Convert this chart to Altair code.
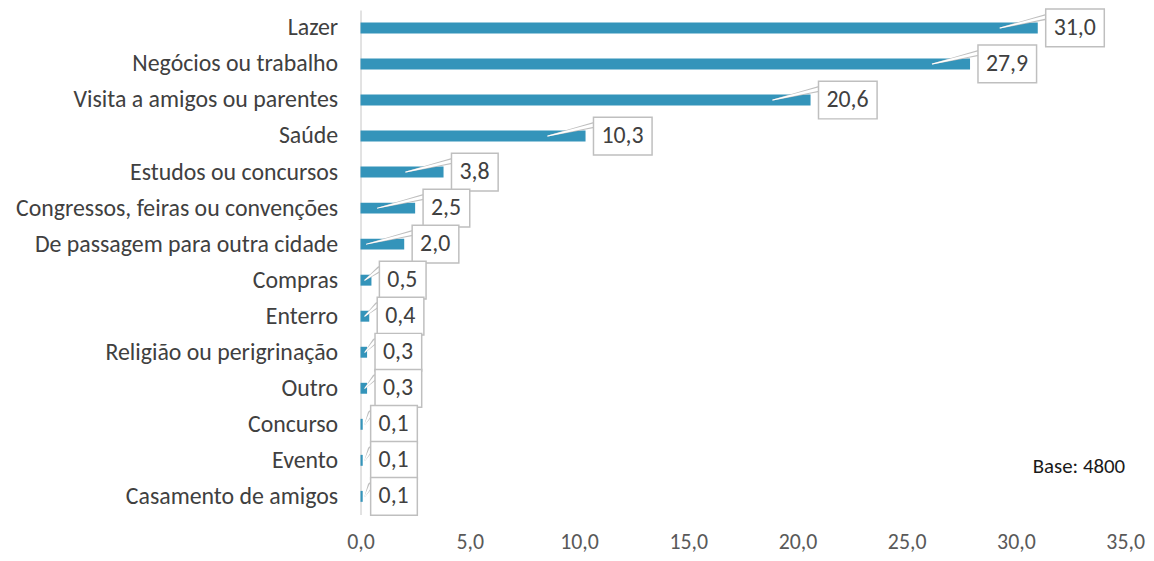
import altair as alt
import pandas as pd

categories = [
    "Lazer", "Negócios ou trabalho", "Visita a amigos ou parentes", "Saúde",
    "Estudos ou concursos", "Congressos, feiras ou convenções",
    "De passagem para outra cidade", "Compras", "Enterro",
    "Religião ou perigrinação", "Outro", "Concurso", "Evento",
    "Casamento de amigos",
]
values = [31.0, 27.9, 20.6, 10.3, 3.8, 2.5, 2.0, 0.5, 0.4, 0.3, 0.3, 0.1, 0.1, 0.1]
x_ticks = [0, 5, 10, 15, 20, 25, 30, 35]
note = ["Base: 4800"]

W, H = 770, 508
XMAX = 35
K = W / XMAX                 # px per unit
ROW = H / len(categories)    # px per row
FONT = "Carlito, Lato, sans-serif"
BAR = "#3494ba"
GRAY = "#bfbfbf"

def fmt(v):
    return f"{v:.1f}".replace(".", ",")

rows = []
wedge = []
for i, (c, v) in enumerate(zip(categories, values)):
    lab = fmt(v)
    bw = 59 if len(lab) >= 4 else 47
    bx = v + 8 / K
    rows.append(dict(idx=i, cat=c, value=v, label=lab,
                     bx=bx, bx2=bx + bw / K,
                     by=i - 19 / ROW, by2=i + 19 / ROW))
    tip = max(v - 38 / K, 0.2)
    wedge.append(dict(cat=c, o=0, x=tip, y=i, s=0))
    wedge.append(dict(cat=c, o=1, x=bx, y=i - 11 / ROW, s=6))
df = pd.DataFrame(rows)
wd = pd.DataFrame(wedge)

label_arr = "[" + ",".join("'" + c + "'" for c in categories) + "]"

yscale = alt.Scale(domain=[-0.5, len(categories) - 0.5], reverse=True, nice=False, zero=False)
xscale = alt.Scale(domain=[0, XMAX], nice=False)

xaxis = alt.Axis(values=x_ticks, title=None, grid=False, ticks=False, domain=False,
                 labelExpr="replace(format(datum.value, '.1f'), '.', ',')",
                 labelFont=FONT, labelFontSize=22, labelColor="#595959",
                 labelPadding=17, labelOverlap=False, labelFlush=False)
yaxis = alt.Axis(values=list(range(len(categories))), title=None, grid=False,
                 ticks=False, domainColor="#d9d9d9", domainWidth=1.5,
                 labelExpr=label_arr + "[datum.value]",
                 labelFont=FONT, labelFontSize=24, labelColor="#404040",
                 labelPadding=23, minExtent=350, maxExtent=350, labelLimit=400,
                 labelOverlap=False, labelBound=False, labelFlush=False)

def X(f):
    return alt.X(f, scale=xscale, axis=xaxis)

def Y(f):
    return alt.Y(f, scale=yscale, axis=yaxis)

base = alt.Chart(df)

bars = base.mark_bar(color=BAR, yOffset=-5.5, y2Offset=5.5).encode(
    x=X("value:Q"), x2=alt.value(0), y=Y("idx:Q"), y2="idx:Q",
)

trail_outer = alt.Chart(wd).mark_trail(color=GRAY).encode(
    x=X("x:Q"), y=Y("y:Q"),
    size=alt.Size("s:Q", scale=None, legend=None),
    detail="cat:N", order="o:Q",
)
trail_inner = alt.Chart(wd).transform_calculate(s2="datum.s * 0.55").mark_trail(color="white").encode(
    x=X("x:Q"), y=Y("y:Q"),
    size=alt.Size("s2:Q", scale=None, legend=None),
    detail="cat:N", order="o:Q",
)

boxes = base.mark_rect(fill="white", stroke=GRAY, strokeWidth=1.5).encode(
    x=X("bx:Q"), x2="bx2:Q", y=Y("by:Q"), y2="by2:Q",
)

texts = base.mark_text(align="left", baseline="middle", dx=16, font=FONT, fontSize=24,
                       color="#404040").encode(
    x=X("value:Q"), y=Y("idx:Q"), text="label:N",
)

note_df = pd.DataFrame({"t": note, "x": [XMAX], "y": [12.2]})
note_txt = alt.Chart(note_df).mark_text(align="right", baseline="middle", font=FONT,
                                        fontSize=21, color="#1a1a1a").encode(
    x=X("x:Q"), y=Y("y:Q"), text="t:N",
)

chart = alt.layer(bars, trail_outer, trail_inner, boxes, texts, note_txt).properties(
    width=W, height=H,
    padding={"left": 355, "top": 0, "right": 21, "bottom": 45},
    autosize=alt.AutoSizeParams(type="none"),
).configure_view(stroke=None).configure_axis(labelOverlap=False)

chart.save("out.html", embed_options={"renderer": "svg", "actions": False})
